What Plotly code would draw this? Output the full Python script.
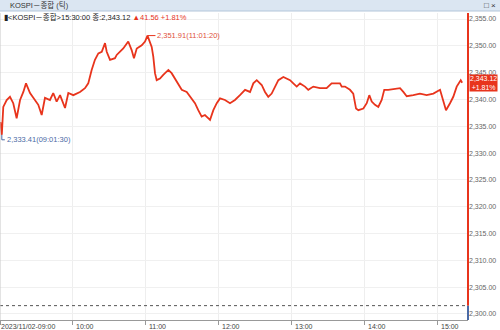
import plotly.graph_objects as go

# ---- data (minutes after 09:00, index value) ----
minutes = [0.3, 1.5, 2.7, 5.5, 8.2, 10.9, 13.7, 16.5, 19.2, 21.4, 24.7, 28.8, 31.5, 34.3, 37.0,
           41.1, 43.8, 46.6, 49.4, 53.5, 56.2, 60.3, 65.8, 69.9, 72.6, 75.4, 78.1, 80.9, 83.7,
           86.4, 87.8, 90.5, 94.6, 96.0, 97.3, 101.4, 105.5, 108.3, 110.2, 112.5, 116.6, 119.3,
           121.33, 124.8, 126.1, 127.5, 128.9, 131.6, 134.3, 138.5, 141.2, 144.0, 146.7, 149.5,
           153.6, 157.7, 160.4, 163.1, 165.9, 168.6, 171.4, 172.8, 175.5, 178.3, 181.0, 185.1,
           189.2, 193.3, 197.4, 201.6, 205.7, 208.4, 211.2, 215.3, 218.0, 220.7, 223.5, 226.2,
           229.0, 233.1, 235.8, 238.6, 241.3, 244.1, 246.8, 250.9, 253.6, 257.7, 263.2, 268.7,
           272.8, 277.0, 279.7, 281.1, 283.8, 287.9, 290.6, 292.9, 294.8, 298.9, 301.7, 303.8,
           305.8, 308.5, 311.2, 314.0, 316.1, 319.4, 324.9, 329.1, 331.8, 334.6, 340.0, 345.5,
           351.0, 356.5, 362.0, 364.7, 366.9, 370.2, 372.9, 375.7, 379.0, 380.2]
values = [2335.8, 2333.41, 2338.6, 2339.9, 2340.5, 2339.3, 2336.5, 2339.9, 2341.4, 2343.0, 2341.2,
          2339.9, 2339.0, 2337.1, 2340.3, 2339.9, 2341.2, 2339.6, 2340.8, 2338.4, 2341.2, 2340.8,
          2341.4, 2342.1, 2343.0, 2345.5, 2347.4, 2348.6, 2348.9, 2350.5, 2348.9, 2347.4, 2347.7,
          2348.3, 2348.6, 2349.5, 2350.8, 2349.2, 2347.7, 2349.5, 2350.1, 2350.8, 2351.91, 2349.8,
          2348.0, 2344.9, 2343.6, 2343.9, 2344.6, 2345.5, 2344.9, 2343.9, 2342.7, 2341.8, 2341.4,
          2340.2, 2339.3, 2338.0, 2336.8, 2337.1, 2336.5, 2336.2, 2338.0, 2339.3, 2340.2, 2339.9,
          2339.3, 2339.9, 2340.8, 2341.8, 2341.4, 2343.0, 2343.6, 2342.7, 2341.4, 2340.5, 2341.1,
          2342.4, 2343.6, 2344.2, 2343.9, 2343.6, 2343.0, 2342.4, 2343.0, 2342.4, 2341.8, 2342.4,
          2342.1, 2342.1, 2343.0, 2343.0, 2343.0, 2342.4, 2342.4, 2341.8, 2341.1, 2338.3, 2338.0,
          2338.3, 2339.3, 2340.8, 2339.6, 2339.0, 2338.6, 2339.9, 2341.8, 2341.8, 2341.9, 2342.1,
          2341.4, 2340.6, 2340.8, 2341.1, 2340.8, 2341.1, 2341.8, 2339.9, 2338.0, 2339.3, 2340.5,
          2342.4, 2343.6, 2343.12]

x_tick_vals = [0, 60, 120, 180, 240, 300, 360]
x_tick_text = ["2023/11/02-09:00", "10:00", "11:00", "12:00", "13:00", "14:00", "15:00"]
y_tick_vals = [2300, 2305, 2310, 2315, 2320, 2325, 2330, 2335, 2340, 2345, 2350, 2355]

prev_close = 2301.56
last_price = 2343.12
change = 41.56
change_pct = 1.81
high_val, high_time, high_label = 2351.91, 121.33, "11:01:20"
low_val, low_time, low_label = 2333.41, 1.5, "09:01:30"

X_RANGE = [0, 385]
Y_RANGE = [2298.88, 2356.12]

RED = "#e8341c"
BLUE = "#4a6aa5"
FONT = "Liberation Sans, Noto Sans CJK KR, sans-serif"

W, H = 500, 330
ML, MR, MT, MB = 0, 32, 13, 10
PW, PH = W - ML - MR, H - MT - MB

fig = go.Figure()
fig.add_trace(go.Scatter(x=minutes, y=values, mode="lines",
                         line=dict(color=RED, width=1.8), hoverinfo="skip"))

shapes = []
# header bar
shapes.append(dict(type="rect", xref="paper", yref="paper", x0=0, x1=W / PW,
                   y0=1 + (MT - 11) / PH, y1=1 + MT / PH,
                   fillcolor="#dbe6f2", line=dict(width=0), layer="above"))
shapes.append(dict(type="line", xref="paper", yref="paper", x0=0, x1=W / PW,
                   y0=1 + (MT - 11) / PH, y1=1 + (MT - 11) / PH,
                   line=dict(color="#b3c6da", width=1)))
# previous close dotted line
shapes.append(dict(type="line", xref="paper", yref="y", x0=0, x1=1,
                   y0=prev_close, y1=prev_close, line=dict(color="#555", width=1, dash="dot")))
# right axis line: red above prev close, blue below
shapes.append(dict(type="line", xref="paper", yref="y", x0=1, x1=1,
                   y0=prev_close, y1=Y_RANGE[1], line=dict(color=RED, width=2)))
shapes.append(dict(type="line", xref="paper", yref="y", x0=1, x1=1,
                   y0=Y_RANGE[0], y1=prev_close, line=dict(color=BLUE, width=2)))
# left border
shapes.append(dict(type="line", xref="paper", yref="paper", x0=0, x1=0, y0=0, y1=1,
                   line=dict(color="#c8c8c8", width=1)))
# high connector
shapes.append(dict(type="line", xref="x", yref="y", xsizemode="pixel", xanchor=high_time,
                   x0=0, x1=8, y0=high_val, y1=high_val, line=dict(color=RED, width=1)))
# low connector (L shape)
shapes.append(dict(type="line", xref="x", yref="y", xsizemode="pixel", ysizemode="pixel",
                   xanchor=low_time, yanchor=low_val, x0=0, x1=0, y0=0, y1=-5,
                   line=dict(color=BLUE, width=1)))
shapes.append(dict(type="line", xref="x", yref="y", xsizemode="pixel", ysizemode="pixel",
                   xanchor=low_time, yanchor=low_val, x0=0, x1=3, y0=-5, y1=-5,
                   line=dict(color=BLUE, width=1)))

annotations = []
# header title
annotations.append(dict(xref="paper", yref="paper", x=8 / PW, y=1 + (MT - 5.5) / PH,
                        xanchor="left", yanchor="middle", showarrow=False,
                        text="KOSPI－종합 (틱)", font=dict(family=FONT, size=7.5, color="#333")))
annotations.append(dict(xref="paper", yref="paper", x=482 / PW, y=1 + (MT - 5.5) / PH,
                        xanchor="left", yanchor="middle", showarrow=False,
                        text="□ ×", font=dict(family=FONT, size=8, color="#333")))
# info line
info = ("<span style='color:#222'>▮&lt;KOSPI－종합&gt;15:30:00 종:{:,.2f} </span>"
        "<span style='color:{}'>▲{:.2f} +{:.2f}%</span>").format(last_price, RED, change, change_pct)
annotations.append(dict(xref="paper", yref="paper", x=2 / PW, y=1 - (17 - MT) / PH,
                        xanchor="left", yanchor="middle", showarrow=False, text=info,
                        font=dict(family=FONT, size=7.5)))
# high / low labels
annotations.append(dict(xref="x", yref="y", x=high_time, y=high_val, xanchor="left",
                        yanchor="middle", xshift=8, showarrow=False,
                        text="{:,.2f}({})".format(high_val, high_label),
                        font=dict(family=FONT, size=7.5, color="#e0503c")))
annotations.append(dict(xref="x", yref="y", x=low_time, y=low_val, xanchor="left",
                        yanchor="middle", xshift=3, yshift=-5, showarrow=False,
                        text="{:,.2f}({})".format(low_val, low_label),
                        font=dict(family=FONT, size=7.5, color=BLUE)))
# price box
annotations.append(dict(xref="paper", yref="y", x=1, y=last_price, xanchor="left",
                        yanchor="middle", xshift=1, showarrow=False,
                        text="{:,.2f}<br>+{:.2f}%".format(last_price, change_pct),
                        bgcolor=RED, borderpad=0, align="center",
                        font=dict(family=FONT, size=7, color="white")))
# x tick labels (left aligned at ticks)
for v, t in zip(x_tick_vals, x_tick_text):
    annotations.append(dict(xref="x", yref="paper", x=v, y=0, xanchor="left", yanchor="top",
                            xshift=1 if v else -1, yshift=-1, showarrow=False, text=t,
                            font=dict(family=FONT, size=7, color="#444")))

fig.update_layout(
    width=W, height=H, margin=dict(l=ML, r=MR, t=MT, b=MB),
    paper_bgcolor="white", plot_bgcolor="white", showlegend=False,
    shapes=shapes, annotations=annotations,
    xaxis=dict(range=X_RANGE, tickvals=x_tick_vals, showticklabels=False,
               ticks="outside", ticklen=4, tickcolor="#999",
               showline=True, linecolor="#999", linewidth=1,
               showgrid=True, gridcolor="#eeeeee", gridwidth=1, zeroline=False, fixedrange=True),
    yaxis=dict(range=Y_RANGE, side="right", tickvals=y_tick_vals, tickformat=",.2f",
               ticks="", showline=False, showgrid=True, gridcolor="#f0f0f0",
               tickfont=dict(family=FONT, size=7, color="#666"), zeroline=False, fixedrange=True),
)

fig.write_html("out.html")
